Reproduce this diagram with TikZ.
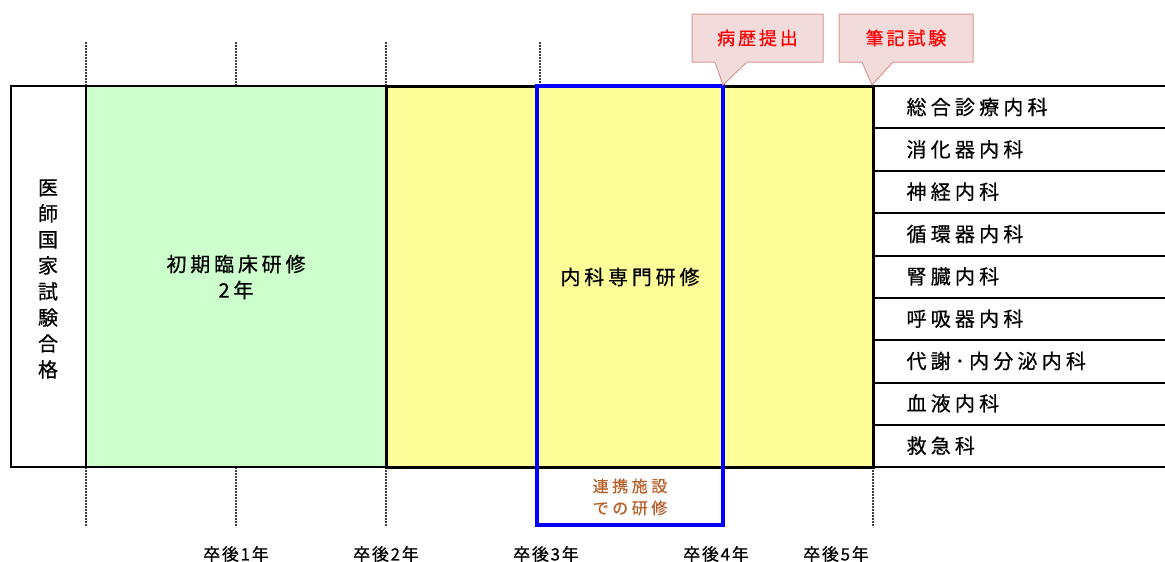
\documentclass[tikz,border=0pt]{standalone}
\usepackage{fontspec}
\setmainfont[FakeBold=0.6]{Noto Sans CJK JP}
\definecolor{greenfill}{HTML}{CCFFCC}
\definecolor{yellowfill}{HTML}{FFFF99}
\definecolor{calloutfill}{HTML}{F2DCDB}
\definecolor{calloutline}{HTML}{D99694}
\definecolor{orangetext}{HTML}{B8602A}
\tikzset{
  tick/.style={line width=2pt, dash pattern=on 2pt off 1pt, black!75},
  thinbox/.style={line width=1.5pt, draw=black},
  callout/.style={fill=calloutfill, draw=calloutline, line width=1pt},
  calltext/.style={text=red, font=\fontsize{18}{20}\selectfont\addfontfeature{LetterSpace=16}},
  listtext/.style={anchor=west, font=\fontsize{20}{22}\selectfont\addfontfeature{LetterSpace=21}},
  maintext/.style={font=\fontsize{20}{26}\selectfont\addfontfeature{LetterSpace=19}, align=center},
  yeartext/.style={font=\fontsize{17}{18}\selectfont\addfontfeature{LetterSpace=10}},
}
\begin{document}
\begin{tikzpicture}[x=1pt,y=-1pt]
\useasboundingbox (0,0) rectangle (1165,562);
% dashed ticks top
\foreach \xx in {86,236,386,540} \draw[tick] (\xx,42) -- (\xx,86);
% dashed ticks bottom
\foreach \xx in {86,236,386,873} \draw[tick] (\xx,467) -- (\xx,527);
% left box
\draw[thinbox] (11,86) rectangle (86,467);
% green box
\fill[greenfill] (86,86) rectangle (386,467);
\draw[thinbox] (86,86) rectangle (386,467);
% yellow box
\fill[yellowfill] (386,86) rectangle (873,467);
\draw[line width=3pt] (386,86) rectangle (873,467);
% right list lines
\foreach \yy in {86,128,171,213,256,298,340,383,425,467}
  \draw[line width=2pt] (873,\yy) -- (1165,\yy);
% blue box
\draw[line width=4pt, blue] (537,86) rectangle (723,525);
% callouts
\draw[callout] (692,14) -- (823,14) -- (823,62) -- (747,62) -- (723,85) -- (715,62) -- (692,62) -- cycle;
\draw[callout] (839,14) -- (973,14) -- (973,62) -- (893,62) -- (872,85) -- (862,62) -- (839,62) -- cycle;
\node[calltext] (c1) at (757.5,38) {病歴提出};
\node[calltext] (c2) at (906,38) {筆記試験};
% texts
\node[align=center, font=\fontsize{20}{26}\selectfont] (exam) at (48,279) {医\\師\\国\\家\\試\\験\\合\\格};
\node[maintext] (init) at (236,277) {初期臨床研修\\2年};
\node[maintext] (spec) at (630,277) {内科専門研修};
\node[align=center, text=orangetext, font=\fontsize{16}{22}\selectfont\addfontfeature{LetterSpace=22}] (coop) at (630,497) {連携施設\\での研修};
% list
\foreach \t [count=\i from 0] in {総合診療内科,消化器内科,神経内科,循環器内科,腎臓内科,呼吸器内科,代謝･内分泌内科,血液内科,救急科}
  \node[listtext] (l\i) at (903,107+42.33*\i) {\t};
% years
\node[yeartext] (y1) at (236,554) {卒後1年};
\node[yeartext] (y2) at (386,554) {卒後2年};
\node[yeartext] (y3) at (546,554) {卒後3年};
\node[yeartext] (y4) at (716,554) {卒後4年};
\node[yeartext] (y5) at (836,554) {卒後5年};
\end{tikzpicture}
\end{document}
